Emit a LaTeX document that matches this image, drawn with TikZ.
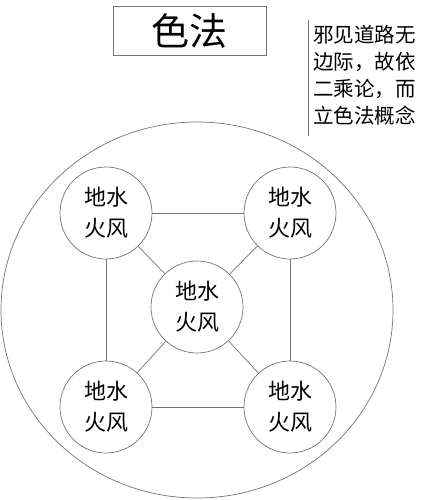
\documentclass[tikz,border=0pt]{standalone}
\usepackage{fontspec}
\usetikzlibrary{shapes.geometric}
\newfontfamily\cjk{Noto Sans CJK SC}
\begin{document}
\begin{tikzpicture}[x=1pt,y=-1pt,
  ln/.style={draw=black!55,line width=0.7pt},
  elem/.style={circle,ln,minimum size=92pt,inner sep=0pt,align=center,
    font=\cjk\fontsize{22}{31}\selectfont},
]
\useasboundingbox (0,0) rectangle (420,500);
% title
\node[draw=black!55,line width=0.7pt,minimum width=153pt,minimum height=49pt,inner sep=0pt,
  font=\cjk\fontsize{38}{40}\selectfont] (title) at (189.5,30.5) {色法};
% side note
\coordinate (vtop) at (308,20);
\coordinate (vbot) at (308,136);
\draw[ln] (vtop) -- (vbot);
\node[anchor=north west,inner sep=0pt,align=left,
  font=\cjk\fontsize{20.5}{27}\selectfont] (note) at (313,25)
  {邪见道路无\\边际，故依\\二乘论，而\\立色法概念};
% outer circle
\node[draw=black!55,line width=0.7pt,ellipse,minimum width=392pt,minimum height=376pt,inner sep=0pt] (outer) at (197,310) {};
% elements
\node[elem] (tl) at (106,213) {地水\\火风};
\node[elem] (tr) at (290,213) {地水\\火风};
\node[elem] (c)  at (197,307) {地水\\火风};
\node[elem] (bl) at (106,407) {地水\\火风};
\node[elem] (br) at (290,407) {地水\\火风};
\draw[ln] (tl) -- (tr);
\draw[ln] (bl) -- (br);
\draw[ln] (tl) -- (bl);
\draw[ln] (tr) -- (br);
\draw[ln] (c) -- (tl);
\draw[ln] (c) -- (tr);
\draw[ln] (c) -- (bl);
\draw[ln] (c) -- (br);
\end{tikzpicture}
\end{document}
